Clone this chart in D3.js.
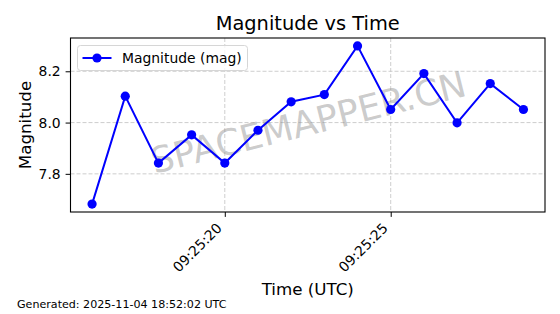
<!DOCTYPE html>
<html lang="en">
    <head>
        <meta charset="utf-8">
        <title>Magnitude vs Time</title>
        <script type="text/javascript" src="https://d3js.org/d3.v7.min.js"></script>
        <style type="text/css">
            body { margin: 0; background: #fff; }
            svg { display: block; font-family: "DejaVu Sans", sans-serif; }
        </style>
    </head>
    <body>
        <script type="text/javascript">

        //Data
        const times = ["09:25:16", "09:25:17", "09:25:18", "09:25:19", "09:25:20", "09:25:21", "09:25:22",
                       "09:25:23", "09:25:24", "09:25:25", "09:25:26", "09:25:27", "09:25:28", "09:25:29"];
        const magnitudes = [7.682, 8.103, 7.842, 7.952, 7.842, 7.970, 8.081,
                            8.109, 8.299, 8.051, 8.191, 7.999, 8.152, 8.051];
        const yTicks = [7.8, 8.0, 8.2];
        const seriesName = "Magnitude (mag)";

        //Layout
        const width = 560;
        const height = 314;
        const plotLeft = 70.5, plotRight = 545, plotTop = 38, plotBottom = 212;

        const parseTime = d3.utcParse("%H:%M:%S");
        const data = times.map((t, i) => ({ time: parseTime(t), mag: magnitudes[i] }));

        //matplotlib-style 5% margins
        const tExt = d3.extent(data, d => d.time);
        const tPad = (tExt[1] - tExt[0]) * 0.05;
        const mExt = d3.extent(data, d => d.mag);
        const mPad = (mExt[1] - mExt[0]) * 0.05;

        const xScale = d3.scaleUtc()
                        .domain([new Date(+tExt[0] - tPad), new Date(+tExt[1] + tPad)])
                        .range([plotLeft, plotRight]);

        const yScale = d3.scaleLinear()
                        .domain([mExt[0] - mPad, mExt[1] + mPad])
                        .range([plotBottom, plotTop]);

        const xTicks = xScale.ticks(d3.utcSecond.every(5));

        const svg = d3.select("body")
                    .append("svg")
                    .attr("width", width)
                    .attr("height", height);

        //Grid
        svg.append("g")
            .selectAll("line")
            .data(xTicks)
            .enter()
            .append("line")
            .attr("x1", d => xScale(d)).attr("x2", d => xScale(d))
            .attr("y1", plotTop).attr("y2", plotBottom)
            .attr("stroke", "#c8c8c8")
            .attr("stroke-width", 0.9)
            .attr("stroke-dasharray", "4,2");

        svg.append("g")
            .selectAll("line")
            .data(yTicks)
            .enter()
            .append("line")
            .attr("x1", plotLeft).attr("x2", plotRight)
            .attr("y1", d => yScale(d)).attr("y2", d => yScale(d))
            .attr("stroke", "#c8c8c8")
            .attr("stroke-width", 0.9)
            .attr("stroke-dasharray", "4,2");

        //Watermark
        svg.append("text")
            .attr("transform", "translate(309,125) rotate(-14)")
            .attr("text-anchor", "middle")
            .attr("dominant-baseline", "middle")
            .attr("font-size", "36px")
            .attr("fill", "#8c8c8c")
            .attr("fill-opacity", 0.45)
            .text("SPACEMAPPER.CN");

        //Axes
        const bottomAxis = d3.axisBottom(xScale)
                             .tickValues(xTicks)
                             .tickSize(4.9)
                             .tickFormat(d3.utcFormat("%H:%M:%S"));

        const gx = svg.append("g")
            .attr("transform", "translate(0," + plotBottom + ")")
            .call(bottomAxis);
        gx.select(".domain").remove();
        gx.selectAll("text")
            .attr("font-size", "13.9px")
            .attr("font-family", "DejaVu Sans")
            .attr("fill", "#000")
            .attr("text-anchor", "end")
            .attr("dy", null)
            .attr("y", null)
            .attr("transform", "translate(-2.5,17) rotate(-45)");

        const leftAxis = d3.axisLeft(yScale)
                           .tickValues(yTicks)
                           .tickSize(4.9)
                           .tickPadding(4.9)
                           .tickFormat(d3.format(".1f"));

        const gy = svg.append("g")
            .attr("transform", "translate(" + plotLeft + ",0)")
            .call(leftAxis);
        gy.select(".domain").remove();
        gy.selectAll("text")
            .attr("font-size", "13.9px")
            .attr("font-family", "DejaVu Sans")
            .attr("fill", "#000");

        //Frame
        svg.append("rect")
            .attr("x", plotLeft).attr("y", plotTop)
            .attr("width", plotRight - plotLeft).attr("height", plotBottom - plotTop)
            .attr("fill", "none")
            .attr("stroke", "#000")
            .attr("stroke-width", 1.1);

        //Line and markers
        const line = d3.line()
                       .x(d => xScale(d.time))
                       .y(d => yScale(d.mag));

        svg.append("path")
            .datum(data)
            .attr("d", line)
            .attr("fill", "none")
            .attr("stroke", "#0000ff")
            .attr("stroke-width", 2);

        svg.selectAll("circle.pt")
            .data(data)
            .enter()
            .append("circle")
            .attr("class", "pt")
            .attr("cx", d => xScale(d.time))
            .attr("cy", d => yScale(d.mag))
            .attr("r", 4.6)
            .attr("fill", "#0000ff");

        //Legend
        const lg = svg.append("g").attr("transform", "translate(77.5,45.5)");
        lg.append("rect")
            .attr("width", 170).attr("height", 25)
            .attr("rx", 3)
            .attr("fill", "#fff").attr("fill-opacity", 0.8)
            .attr("stroke", "#d6d6d6");
        lg.append("line")
            .attr("x1", 5).attr("x2", 34)
            .attr("y1", 12.5).attr("y2", 12.5)
            .attr("stroke", "#0000ff").attr("stroke-width", 2);
        lg.append("circle")
            .attr("cx", 19.5).attr("cy", 12.5).attr("r", 4.6)
            .attr("fill", "#0000ff");
        lg.append("text")
            .attr("x", 44.5).attr("y", 17.3)
            .attr("font-size", "13.9px")
            .text(seriesName);

        //Titles
        svg.append("text")
            .attr("x", (plotLeft + plotRight) / 2).attr("y", 30)
            .attr("text-anchor", "middle")
            .attr("font-size", "19.4px")
            .text("Magnitude vs Time");

        svg.append("text")
            .attr("x", (plotLeft + plotRight) / 2).attr("y", 295)
            .attr("text-anchor", "middle")
            .attr("font-size", "16.7px")
            .text("Time (UTC)");

        svg.append("text")
            .attr("transform", "translate(31," + ((plotTop + plotBottom) / 2) + ") rotate(-90)")
            .attr("text-anchor", "middle")
            .attr("font-size", "16.7px")
            .text("Magnitude");

        svg.append("text")
            .attr("x", 17).attr("y", 308)
            .attr("font-size", "11.1px")
            .text("Generated: 2025-11-04 18:52:02 UTC");

        </script>
    </body>
</html>
